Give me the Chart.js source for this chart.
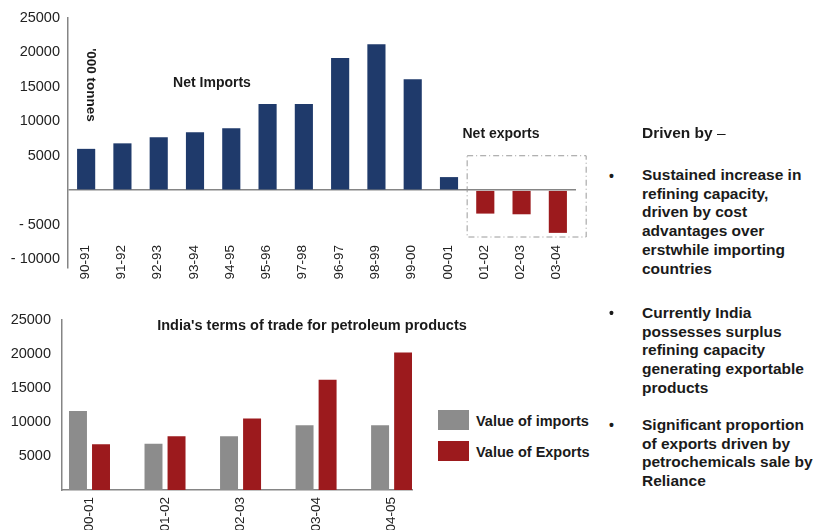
<!DOCTYPE html>
<html>
<head>
<meta charset="utf-8">
<script src="https://cdn.jsdelivr.net/npm/chart.js@4.4.1/dist/chart.umd.min.js"></script>
<style>
  body { margin: 0; background: #fff; font-family: "Liberation Sans", Arial, sans-serif; color: #1a1a1a; }
  #page { position: relative; width: 822px; height: 530px; overflow: hidden; }
  canvas { position: absolute; }
  .lbl { position: absolute; font-weight: bold; font-size: 14px; white-space: nowrap; transform: translate(-50%, -50%); }
  .vert { position: absolute; font-weight: bold; font-size: 13.5px; writing-mode: vertical-rl; transform: translate(-50%, -50%); white-space: nowrap; }
  .swatch { position: absolute; width: 31px; height: 20px; }
  .legtxt { position: absolute; font-weight: bold; font-size: 14.5px; transform: translateY(-50%); white-space: nowrap; }
  .para { position: absolute; left: 642px; font-weight: bold; font-size: 15.5px; line-height: 18.7px; white-space: nowrap; }
  .dot { position: absolute; left: 609px; font-size: 14px; font-weight: bold; transform: translateY(-50%); }
</style>
</head>
<body>
<div id="page">
  <canvas id="netChart" width="600" height="300" style="left:0;top:0"></canvas>
  <canvas id="tradeChart" width="430" height="230" style="left:0;top:300px"></canvas>

  <div class="lbl" style="left:212px;top:82px">Net Imports</div>
  <div class="lbl" style="left:501px;top:133px">Net exports</div>
  <div class="vert" style="left:91px;top:85px">'000 tonnes</div>
  <div class="lbl" style="left:312px;top:325px;font-size:14.5px">India's terms of trade for petroleum products</div>

  <div class="swatch" style="left:438px;top:410px;background:#8c8c8c"></div>
  <div class="swatch" style="left:438px;top:441px;background:#9c1a1d"></div>
  <div class="legtxt" style="left:476px;top:421px">Value of imports</div>
  <div class="legtxt" style="left:476px;top:452px">Value of Exports</div>

  <div class="para" style="top:124px">Driven by <span style="font-weight:normal">–</span></div>
  <div class="dot" style="top:176px">•</div>
  <div class="para" style="top:166px">Sustained increase in<br>refining capacity,<br>driven by cost<br>advantages over<br>erstwhile importing<br>countries</div>
  <div class="dot" style="top:313px">•</div>
  <div class="para" style="top:304px">Currently India<br>possesses surplus<br>refining capacity<br>generating exportable<br>products</div>
  <div class="dot" style="top:425px">•</div>
  <div class="para" style="top:416px">Significant proportion<br>of exports driven by<br>petrochemicals sale by<br>Reliance</div>
</div>

<script>
// net imports ('000 tonnes), negative = net exports
const years = ['90-91', '91-92', '92-93', '93-94', '94-95', '95-96', '97-98', '96-97', '98-99', '99-00', '00-01', '01-02', '02-03', '03-04'];
const netImports = [6000, 6800, 7700, 8400, 9000, 12500, 12500, 19200, 21200, 16100, 1900, -3400, -3500, -6200];
const netTicks = [-10000, -5000, 5000, 10000, 15000, 20000, 25000];

// value of trade in petroleum products
const tradeYears = ['00-01', '01-02', '02-03', '03-04', '04-05'];
const importValue = [11600, 6800, 7900, 9500, 9500];
const exportValue = [6700, 7900, 10500, 16200, 20200];
const tradeTicks = [5000, 10000, 15000, 20000, 25000];

const NAVY = '#1f3a6b';
const RED = '#9c1a1d';
const GREY = '#8c8c8c';
const AXIS = '#858585';
const FONT = '"Liberation Sans", Arial, sans-serif';

Chart.defaults.font.family = FONT;
Chart.defaults.color = '#222';

// dash-dot frame around the net export years
const exportBox = {
  id: 'exportBox',
  afterDatasetsDraw(chart) {
    const { ctx, scales: { x, y } } = chart;
    const l = x.getPixelForValue(10.5), r = x.getPixelForValue(13.78);
    const t = y.getPixelForValue(5000), b = y.getPixelForValue(-6800);
    ctx.save();
    ctx.strokeStyle = '#9a9a9a';
    ctx.lineWidth = 1;
    ctx.setLineDash([6, 3, 1, 3]);
    ctx.strokeRect(l, t, r - l, b - t);
    ctx.restore();
  }
};

new Chart(document.getElementById('netChart'), {
  type: 'bar',
  data: {
    labels: years,
    datasets: [{
      data: netImports,
      backgroundColor: c => c.raw < 0 ? RED : NAVY,
      categoryPercentage: 1,
      barPercentage: 0.5
    }]
  },
  options: {
    responsive: false,
    animation: false,
    layout: { padding: { top: 18, right: 24, left: 0, bottom: 0 } },
    plugins: { legend: { display: false }, tooltip: { enabled: false } },
    scales: {
      x: {
        grid: { display: false, drawTicks: false },
        border: { display: false },
        // mirrored so the year labels sit up inside the plot, below the export bars
        ticks: {
          mirror: true, minRotation: 90, maxRotation: 90, autoSkip: false,
          padding: 23, labelOffset: 15, font: { size: 13.5 }
        },
        afterFit: s => { s.height = 32; }
      },
      y: {
        min: -11300,
        max: 25000,
        border: { color: AXIS, width: 1.5 },
        grid: {
          drawTicks: false,
          color: c => c.tick && c.tick.value === 0 ? AXIS : 'transparent',
          lineWidth: 1.5
        },
        afterBuildTicks: s => { s.ticks = [0].concat(netTicks).map(v => ({ value: v })); },
        ticks: {
          padding: 8,
          font: { size: 14.5 },
          callback: v => v === 0 ? '' : (v < 0 ? '- ' + (-v) : String(v))
        },
        afterFit: s => { s.width = 68; }
      }
    }
  },
  plugins: [exportBox]
});

new Chart(document.getElementById('tradeChart'), {
  type: 'bar',
  data: {
    datasets: [
      { label: 'Value of imports', data: importValue.map((v, i) => ({ x: i, y: v })), backgroundColor: GREY },
      { label: 'Value of Exports', data: exportValue.map((v, i) => ({ x: i, y: v })), backgroundColor: RED }
    ]
  },
  options: {
    responsive: false,
    animation: false,
    categoryPercentage: 0.61,
    barPercentage: 0.78,
    layout: { padding: { top: 19, right: 18, left: 0, bottom: 0 } },
    plugins: { legend: { display: false }, tooltip: { enabled: false } },
    scales: {
      x: {
        type: 'linear',
        offset: false,
        min: -0.364,
        max: 4.27,
        grid: { display: false, drawTicks: false },
        border: { color: AXIS, width: 1.5 },
        afterBuildTicks: s => { s.ticks = tradeYears.map((_, i) => ({ value: i })); },
        ticks: {
          minRotation: 90, maxRotation: 90, autoSkip: false, padding: 7,
          font: { size: 13.5 },
          callback: v => tradeYears[v]
        },
        afterFit: s => { s.height = 40; }
      },
      y: {
        min: 0,
        max: 25000,
        border: { color: AXIS, width: 1.5 },
        grid: { display: false, drawTicks: false },
        afterBuildTicks: s => { s.ticks = tradeTicks.map(v => ({ value: v })); },
        ticks: { padding: 11, font: { size: 14.5 }, callback: v => String(v) },
        afterFit: s => { s.width = 62; }
      }
    }
  }
});
</script>
</body>
</html>
